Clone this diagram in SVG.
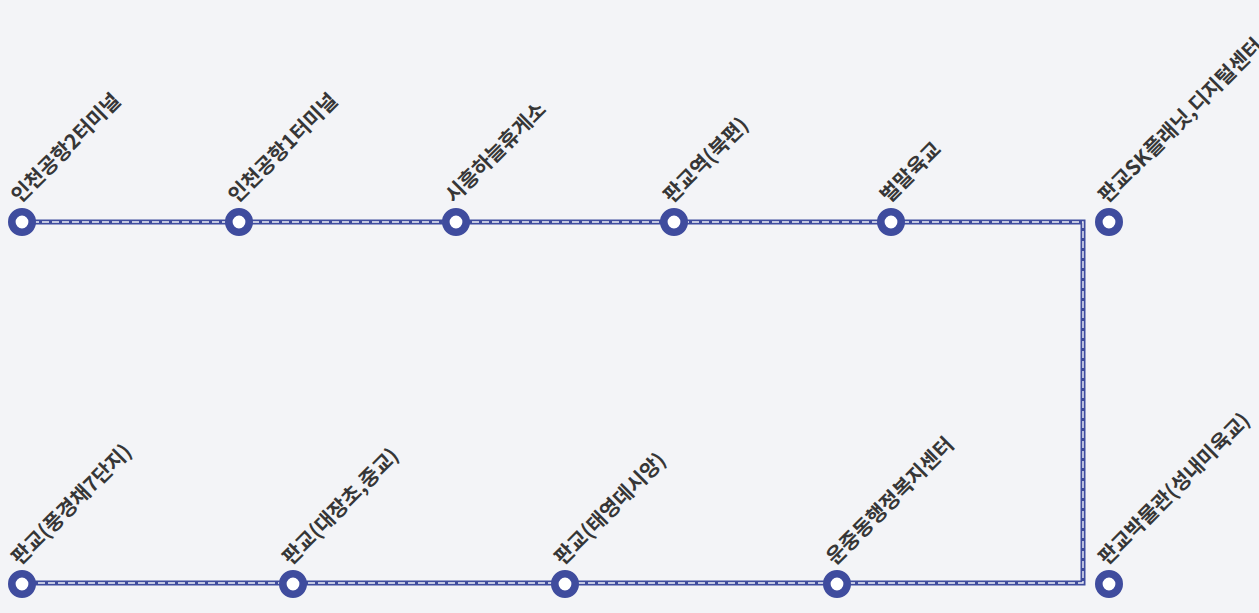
<svg xmlns="http://www.w3.org/2000/svg" width="1259" height="613" viewBox="0 0 1259 613">
<style>
.bg{fill:#f3f4f7}
.route{fill:none;stroke:#3f4c9e;stroke-width:5;stroke-linejoin:miter}
.dash{fill:none;stroke:#eef0f8;stroke-width:1.4;stroke-dasharray:7 3}
.stop{fill:#ffffff;stroke:#3f4c9e;stroke-width:7.6}
.lbl{font-family:"Noto Sans CJK KR","Noto Sans",sans-serif;font-size:20.5px;font-weight:700;fill:#363636}
</style>
<rect class="bg" x="0" y="0" width="1259" height="613"/>
<g id="connectors">
<path class="route" d="M22 222 H1083 V583 H22"/>
<path class="dash" d="M22 222 H1083 V583 H22"/>
</g>
<g id="n1"><circle class="stop" cx="22" cy="222" r="10.2"/><text class="lbl" transform="translate(20 204) rotate(-45)">인천공항2터미널</text></g>
<g id="n2"><circle class="stop" cx="239" cy="222" r="10.2"/><text class="lbl" transform="translate(237 204) rotate(-45)">인천공항1터미널</text></g>
<g id="n3"><circle class="stop" cx="456" cy="222" r="10.2"/><text class="lbl" transform="translate(454 204) rotate(-45)">시흥하늘휴게소</text></g>
<g id="n4"><circle class="stop" cx="674" cy="222" r="10.2"/><text class="lbl" transform="translate(672 204) rotate(-45)">판교역(북편)</text></g>
<g id="n5"><circle class="stop" cx="891" cy="222" r="10.2"/><text class="lbl" transform="translate(889 204) rotate(-45)">벌말육교</text></g>
<g id="n6"><circle class="stop" cx="1109" cy="222" r="10.2"/><text class="lbl" transform="translate(1107 204) rotate(-45)">판교SK플래닛,디지털센터</text></g>
<g id="n7"><circle class="stop" cx="1109" cy="584" r="10.2"/><text class="lbl" transform="translate(1107 566) rotate(-45)">판교박물관(성내미육교)</text></g>
<g id="n8"><circle class="stop" cx="837" cy="584" r="10.2"/><text class="lbl" transform="translate(835 566) rotate(-45)">운중동행정복지센터</text></g>
<g id="n9"><circle class="stop" cx="565" cy="584" r="10.2"/><text class="lbl" transform="translate(563 566) rotate(-45)">판교(태영데시앙)</text></g>
<g id="n10"><circle class="stop" cx="293" cy="584" r="10.2"/><text class="lbl" transform="translate(291 566) rotate(-45)">판교(대장초,중교)</text></g>
<g id="n11"><circle class="stop" cx="22" cy="584" r="10.2"/><text class="lbl" transform="translate(20 566) rotate(-45)">판교(풍경채7단지)</text></g>
</svg>
